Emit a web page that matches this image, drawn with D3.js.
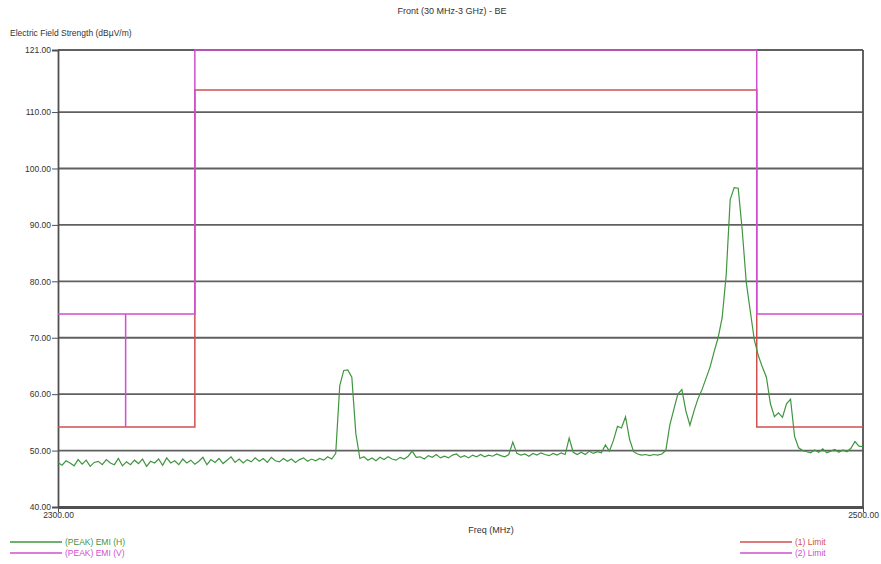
<!DOCTYPE html>
<html>
<head>
<meta charset="utf-8">
<script src="https://cdn.jsdelivr.net/npm/d3@7"></script>
<style>
  body { margin: 0; background: #fff; }
  svg text { font-family: "Liberation Sans", Arial, sans-serif; }
</style>
</head>
<body>
<div class="canvas"></div>
<script>
// sweep: 2300 MHz .. 2500 MHz, 1 MHz per sample
const freqStart = 2300
const freqStep = 1

// (PEAK) EMI (H) trace, dBuV/m
const peakH = [
  47.9, 47.4, 48.2, 47.8, 47.3, 48.4, 47.6, 48.3, 47.2, 47.9,
  48.1, 47.5, 48.4, 47.8, 47.5, 48.6, 47.3, 48.0, 47.5, 48.3,
  47.7, 48.5, 47.2, 48.1, 47.8, 48.5, 47.4, 48.7, 47.8, 48.2,
  47.5, 48.5, 47.8, 48.3, 47.6, 48.1, 48.8, 47.5, 48.4, 47.9,
  48.6, 47.7, 48.3, 48.9, 47.9, 48.5, 47.8, 48.4, 48.0, 48.7,
  48.1, 48.6, 47.9, 48.8, 48.2, 48.0, 48.6, 48.1, 48.5, 47.9,
  48.4, 48.7, 48.1, 48.5, 48.2, 48.6, 48.3, 48.9, 48.5,
  49.5, 61.5, 64.2, 64.3, 63.0, 53.0, 48.6,
  48.9, 48.3, 48.7, 48.2, 48.8, 48.4, 48.9, 48.5, 48.3, 48.8,
  48.5, 49.0, 49.9, 48.8, 48.9, 48.5, 49.1, 48.8, 49.3, 48.7,
  49.0, 48.7, 49.2, 49.4, 48.8, 49.1, 48.7, 49.2, 48.9, 49.3,
  48.9, 49.2, 49.0, 49.4, 49.1, 48.9, 49.3, 51.5, 49.5, 49.2,
  49.4, 49.0, 49.5, 49.2, 49.6, 49.3, 49.1, 49.5, 49.2, 49.6,
  49.3, 52.2, 49.7, 49.3, 49.7, 49.3, 49.9, 49.5, 49.8, 49.6,
  51.0, 49.9, 51.8, 54.3, 54.0, 56.0, 52.0, 49.8, 49.4, 49.2,
  49.3, 49.1, 49.3, 49.2, 49.4, 50.0, 54.5, 57.3, 60.0, 60.8,
  57.0, 54.5, 57.0, 59.2, 60.8, 62.8, 64.8, 67.5, 70.0, 73.5,
  81.0, 94.5, 96.6, 96.5, 89.0, 79.8, 74.7, 69.6, 66.8, 64.8,
  63.0, 58.3, 56.0, 56.7, 55.9, 58.3, 59.1, 52.5, 50.5, 50.0,
  49.8, 49.6, 50.1, 49.7, 50.3, 49.6, 49.9, 50.2, 49.7, 50.1,
  49.8, 50.4, 51.6, 50.8, 50.7
]

// (1) Limit - red
const limit1Freq = [2300, 2334, 2334, 2473.6, 2473.6, 2500]
const limit1Level = [54.2, 54.2, 113.9, 113.9, 54.2, 54.2]

// (2) Limit - pink, plus its short vertical marker
const limit2Freq = [2300, 2334, 2334, 2473.6, 2473.6, 2500]
const limit2Level = [74.2, 74.2, 121, 121, 74.2, 74.2]
const limit2MarkFreq = [2316.8, 2316.8]
const limit2MarkLevel = [74.2, 54.2]

const yTicks = [40, 50, 60, 70, 80, 90, 100, 110, 121]
const xTicks = [2300, 2500]

const colors = { green: '#3f963f', pink: '#cf4fcf', red: '#d24f4f', grid: '#606060', axis: '#505050' }

const width = 881
const height = 564
const margin = { left: 58, right: 18, top: 50, bottom: 57 }

const svg = d3.select('.canvas')
  .append('svg')
  .attr('width', width)
  .attr('height', height)

const x = d3.scaleLinear()
  .domain([2300, 2500])
  .range([margin.left, width - margin.right])

const y = d3.scaleLinear()
  .domain([40, 121])
  .range([height - margin.bottom, margin.top])

// titles
svg.append('text')
  .attr('x', 452).attr('y', 14)
  .attr('text-anchor', 'middle')
  .attr('font-size', 9).attr('fill', '#333')
  .text('Front (30 MHz-3 GHz) - BE')

svg.append('text')
  .attr('x', 10).attr('y', 36)
  .attr('font-size', 8.5).attr('fill', '#333')
  .text('Electric Field Strength (dBµV/m)')

svg.append('text')
  .attr('x', 491).attr('y', 533)
  .attr('text-anchor', 'middle')
  .attr('font-size', 9).attr('fill', '#333')
  .text('Freq (MHz)')

// gridlines
svg.append('g')
  .selectAll('line')
  .data(yTicks)
  .enter().append('line')
    .attr('x1', x(2300)).attr('x2', x(2500))
    .attr('y1', d => y(d)).attr('y2', d => y(d))
    .attr('stroke', colors.grid)
    .attr('stroke-width', 1.8)

// right border
svg.append('line')
  .attr('x1', x(2500)).attr('x2', x(2500))
  .attr('y1', y(121)).attr('y2', y(40))
  .attr('stroke', colors.axis).attr('stroke-width', 1.8)

// y axis
const yAxis = d3.axisLeft(y)
  .tickValues(yTicks)
  .tickSize(6)
  .tickFormat(d => d.toFixed(2))

const yAxisGroup = svg.append('g')
  .attr('transform', `translate(${x(2300)}, 0)`)
  .call(yAxis)

yAxisGroup.select('.domain').attr('stroke', colors.axis).attr('stroke-width', 1.8)
yAxisGroup.selectAll('.tick line').attr('stroke', colors.axis)
yAxisGroup.selectAll('.tick text')
  .attr('font-size', 8.5)
  .attr('fill', '#333')
  .attr('x', -7)

// x axis
const xAxis = d3.axisBottom(x)
  .tickValues(xTicks)
  .tickSize(5)
  .tickSizeOuter(0)
  .tickFormat(d => d.toFixed(2))

const xAxisGroup = svg.append('g')
  .attr('transform', `translate(0, ${y(40)})`)
  .call(xAxis)

xAxisGroup.select('.domain').attr('stroke', colors.axis).attr('stroke-width', 3)
xAxisGroup.selectAll('.tick line').attr('stroke', colors.axis)
xAxisGroup.selectAll('.tick text')
  .attr('font-size', 8.5)
  .attr('fill', '#333')
  .attr('y', 5)

// limit lines
const limitLine = d3.line()
  .x(d => x(d[0]))
  .y(d => y(d[1]))

const plot = svg.append('g')

plot.append('path')
  .datum(limit1Freq.map((f, i) => [f, limit1Level[i]]))
  .attr('d', limitLine)
  .attr('fill', 'none')
  .attr('stroke', colors.red)
  .attr('stroke-width', 1.5)

plot.append('path')
  .datum(limit2Freq.map((f, i) => [f, limit2Level[i]]))
  .attr('d', limitLine)
  .attr('fill', 'none')
  .attr('stroke', colors.pink)
  .attr('stroke-width', 1.5)

plot.append('path')
  .datum(limit2MarkFreq.map((f, i) => [f, limit2MarkLevel[i]]))
  .attr('d', limitLine)
  .attr('fill', 'none')
  .attr('stroke', colors.pink)
  .attr('stroke-width', 1.5)

// trace
const trace = d3.line()
  .x((d, i) => x(freqStart + i * freqStep))
  .y(d => y(d))

plot.append('path')
  .datum(peakH)
  .attr('d', trace)
  .attr('fill', 'none')
  .attr('stroke', colors.green)
  .attr('stroke-width', 1.2)

// legend
const legendItems = [
  { name: '(PEAK) EMI (H)', color: colors.green, x: 10, y: 542 },
  { name: '(PEAK) EMI (V)', color: colors.pink, x: 10, y: 553 },
  { name: '(1) Limit', color: colors.red, x: 740, y: 542 },
  { name: '(2) Limit', color: colors.pink, x: 740, y: 553 }
]

const legend = svg.append('g')
  .selectAll('g')
  .data(legendItems)
  .enter().append('g')
    .attr('transform', d => `translate(${d.x}, ${d.y})`)

legend.append('line')
  .attr('x1', 0).attr('x2', 52)
  .attr('stroke', d => d.color)
  .attr('stroke-width', 1.5)

legend.append('text')
  .attr('x', 55).attr('y', 3)
  .attr('font-size', 8.5)
  .attr('fill', d => d.color)
  .text(d => d.name)
</script>
</body>
</html>
